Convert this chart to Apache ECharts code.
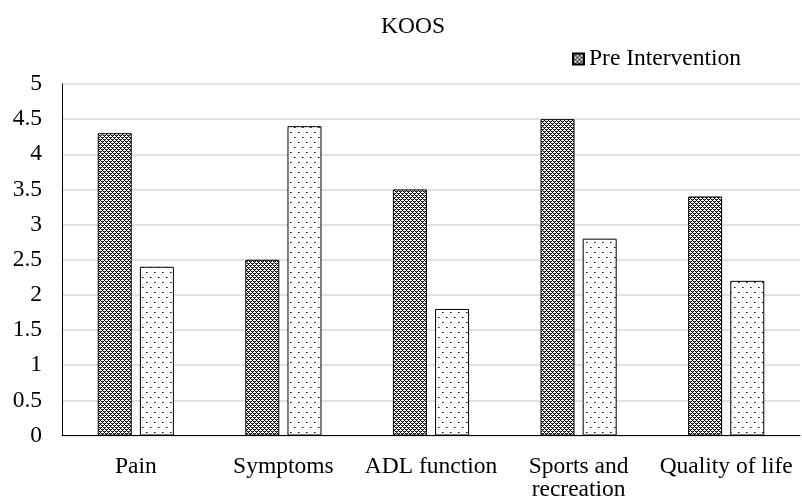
<!DOCTYPE html>
<html>
<head>
<meta charset="utf-8">
<script src="https://cdn.jsdelivr.net/npm/echarts@6/dist/echarts.min.js"></script>
<style>html,body{margin:0;padding:0;background:#fff}#c{width:802px;height:502px}</style>
</head>
<body>
<div id="c"></div>
<script>
const categories = ['Pain', 'Symptoms', 'ADL function', 'Sports and\nrecreation', 'Quality of life'];
const preValues = [4.3, 2.5, 3.5, 4.5, 3.4];
const postValues = [2.4, 4.4, 1.8, 2.8, 2.2];
const seriesNames = ['Pre Intervention', 'Post Intervention'];
const yTicks = [0, 0.5, 1, 1.5, 2, 2.5, 3, 3.5, 4, 4.5, 5];

function densePattern() {
  const c = document.createElement('canvas');
  c.width = 4; c.height = 4;
  const g = c.getContext('2d');
  g.fillStyle = '#fff'; g.fillRect(0, 0, 4, 4);
  g.fillStyle = '#000';
  for (let x = 0; x < 4; x++) for (let y = 0; y < 4; y++) {
    if ((x + y) % 4 === 0 || ((x - y) % 4 + 4) % 4 === 0) g.fillRect(x, y, 1, 1);
  }
  g.fillStyle = '#555';
  g.fillRect(2, 1, 1, 1); g.fillRect(0, 3, 1, 1);
  return c;
}
function dotPattern() {
  const c = document.createElement('canvas');
  c.width = 8; c.height = 10;
  const g = c.getContext('2d');
  g.fillStyle = '#fff'; g.fillRect(0, 0, 8, 10);
  g.fillStyle = '#000';
  g.fillRect(2, 2, 1, 1); g.fillRect(6, 7, 1, 1);
  g.fillStyle = '#777';
  g.fillRect(3, 2, 1, 1); g.fillRect(7, 7, 1, 1);
  return c;
}

const font = 'Liberation Serif, Times New Roman, serif';
const fs = 23.5;
const chart = echarts.init(document.getElementById('c'));
chart.setOption({
  animation: false,
  backgroundColor: '#fff',
  title: {
    text: 'KOOS', left: 408, top: 10, textAlign: 'center',
    textStyle: { fontFamily: font, fontWeight: 'normal', fontSize: fs, color: '#000' }
  },
  legend: {
    data: [seriesNames[0]], left: 567, top: 42, icon: 'rect',
    itemWidth: 11, itemHeight: 11, itemGap: 4,
    textStyle: { fontFamily: font, fontSize: fs, color: '#000' }
  },
  grid: { left: 62, right: 2, top: 84, bottom: 64, containLabel: false },
  xAxis: {
    type: 'category', data: categories,
    axisLine: { lineStyle: { color: '#000', width: 1 } },
    axisTick: { show: false },
    axisLabel: { fontFamily: font, fontSize: fs, color: '#000', margin: 20, lineHeight: 23, interval: 0 }
  },
  yAxis: {
    type: 'value', min: yTicks[0], max: yTicks[yTicks.length - 1], interval: 0.5,
    axisLine: { show: true, lineStyle: { color: '#000', width: 1 } },
    axisTick: { show: false },
    axisLabel: { fontFamily: font, fontSize: fs, color: '#000', margin: 20 },
    splitLine: { lineStyle: { color: '#d9d9d9', width: 1.5 } }
  },
  series: [
    {
      name: seriesNames[0], type: 'bar', data: preValues,
      barWidth: 34, barGap: '24%',
      itemStyle: { color: { image: densePattern(), repeat: 'repeat' }, borderColor: '#000', borderWidth: 1 }
    },
    {
      name: seriesNames[1], type: 'bar', data: postValues,
      barWidth: 34,
      itemStyle: { color: { image: dotPattern(), repeat: 'repeat' }, borderColor: '#000', borderWidth: 1 }
    }
  ]
});
</script>
</body>
</html>
